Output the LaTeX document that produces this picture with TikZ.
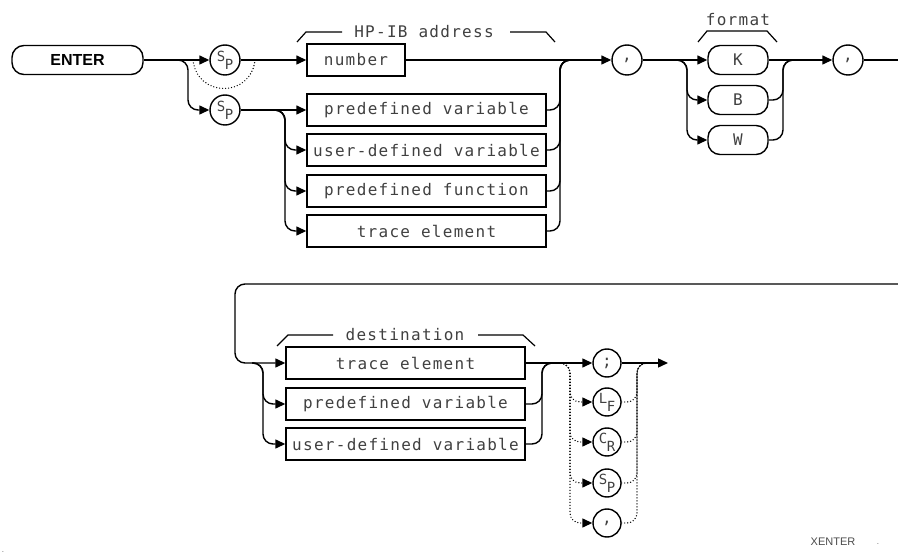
\documentclass[tikz,border=0pt]{standalone}
\usepackage{fontspec}
\setmainfont{Liberation Sans}
\newfontfamily\hpfont[LetterSpace=8]{DejaVu Sans Mono}
\newfontfamily\hpcirc{DejaVu Sans Mono}
\usetikzlibrary{arrows.meta}

\newcommand\twochar[2]{{\fontsize{14}{14}\selectfont\raisebox{3.5pt}{#1}\hspace{-0.5pt}\raisebox{-4.5pt}{#2}}}

\tikzset{
  flow/.style={line width=1.4pt},
  opt/.style={line width=1.4pt,dash pattern=on 0pt off 3pt,line cap=round},
  tip/.style={-{Triangle[length=10pt,width=9pt]}},
  field/.style={draw,line width=1.4pt,minimum width=239pt,minimum height=32pt,inner sep=0pt,
    font=\hpfont\fontsize{16}{16}\selectfont,text=black!75},
  keyword/.style={draw,line width=1.4pt,rounded corners=12pt,minimum width=60pt,minimum height=29pt,
    inner sep=0pt,font=\hpcirc\fontsize{16}{16}\selectfont,text=black!75},
  token/.style={draw,line width=1.4pt,circle,minimum size=30pt,inner sep=0pt,
    font=\hpcirc\fontsize{16}{16}\selectfont,text=black!75},
  brtext/.style={inner sep=0pt,font=\hpfont\fontsize{16}{16}\selectfont,text=black!75}
}

\begin{document}
\begin{tikzpicture}[x=1pt,y=-1pt]
  \useasboundingbox (0,0) rectangle (898,556);

  % upper line: device, then format
  \node[keyword,minimum width=131pt,text=black,font=\bfseries\fontsize{16}{16}\selectfont] (enter) at (77.5,60) {ENTER};
  \node[token] (sp1) at (225,60) {\twochar{S}{P}};
  \node[token] (sp2) at (225,110) {\twochar{S}{P}};
  \node[field,minimum width=98pt] (number) at (356,60) {number};
  \node[field] (pv1) at (426.5,110) {predefined variable};
  \node[field] (ud1) at (426.5,150) {user-defined variable};
  \node[field] (pf1) at (426.5,191) {predefined function};
  \node[field] (te1) at (426.5,231) {trace element};
  \node[token] (comma1) at (627,60) {,};
  \node[keyword] (fmtK) at (738,60) {K};
  \node[keyword] (fmtB) at (738,100) {B};
  \node[keyword] (fmtW) at (738,140) {W};
  \node[token] (comma2) at (848,60) {,};

  \coordinate (fork1) at (178,60);
  \coordinate (rail1) at (188,60);
  \coordinate (skip1) at (193,60);
  \coordinate (skip2) at (255,60);
  \coordinate (fork2) at (273,110);
  \coordinate (rail2) at (285,110);
  \coordinate (rail3) at (560,60);
  \coordinate (join3) at (574,60);
  \coordinate (fork4) at (675,60);
  \coordinate (rail4) at (687,60);
  \coordinate (rail5) at (783,60);
  \coordinate (join5) at (796,60);
  \coordinate (end1) at (898,60);

  \draw[flow,tip] (enter) -- (sp1);
  \draw[flow,tip,rounded corners=10pt] (fork1) -| (rail1 |- sp2.west) -- (sp2.west);
  \draw[opt] (skip1) .. controls +(4,38) and +(-4,38) .. (skip2);
  \draw[flow,tip] (sp1) -- (number);
  \draw[flow,tip] (sp2) -- (pv1);
  \foreach \n in {ud1,pf1,te1}
    \draw[flow,tip,rounded corners=10pt] (fork2) -| (rail2 |- \n.west) -- (\n.west);
  \draw[flow,tip] (number) -- (comma1);
  \foreach \n in {pv1,ud1,pf1,te1}
    \draw[flow,rounded corners=10pt] (\n.east) -| (rail3) -- (join3);
  \draw[flow,tip] (comma1) -- (fmtK);
  \foreach \n in {fmtB,fmtW}
    \draw[flow,tip,rounded corners=10pt] (fork4) -| (rail4 |- \n.west) -- (\n.west);
  \foreach \n in {fmtB,fmtW}
    \draw[flow,rounded corners=10pt] (\n.east) -| (rail5) -- (join5);
  \draw[flow,tip] (fmtK) -- (comma2);
  \draw[flow] (comma2) -- (end1);

  % brackets over the groups
  \draw[line width=1.2pt] (297,42) -- (306,32) -- (342,32);
  \node[brtext] (hpib) at (424,32) {HP-IB address};
  \draw[line width=1.2pt] (510,32) -- (546,32) -- (555,42);
  \node[brtext] (fmt) at (738,20) {format};
  \draw[line width=1.2pt] (698,42) -- (707,31) -- (767,31) -- (777,42);

  % lower line: destination, then terminator
  \node[field] (te2) at (405.5,363) {trace element};
  \node[field] (pv2) at (405.5,404) {predefined variable};
  \node[field] (ud2) at (405.5,444) {user-defined variable};
  \node[token,minimum size=28pt] (semi) at (607,363) {;};
  \node[token,minimum size=28pt] (lf) at (607,402) {\twochar{L}{F}};
  \node[token,minimum size=28pt] (cr) at (607,442) {\twochar{C}{R}};
  \node[token,minimum size=28pt] (sp3) at (607,483) {\twochar{S}{P}};
  \node[token,minimum size=28pt] (comma3) at (607,523) {,};

  \coordinate (start2) at (898,284);
  \coordinate (turn2) at (235,284);
  \coordinate (fork6) at (252,363);
  \coordinate (rail6) at (263,363);
  \coordinate (rail7) at (542,363);
  \coordinate (join7) at (555,363);
  \coordinate (fork8) at (558,363);
  \coordinate (rail8) at (570,363);
  \coordinate (rail9) at (637,363);
  \coordinate (join9) at (651,363);
  \coordinate (fin) at (668,363);

  \draw[flow,tip,rounded corners=10pt] (start2) -- (turn2) -- (turn2 |- te2.west) -- (te2.west);
  \foreach \n in {pv2,ud2}
    \draw[flow,tip,rounded corners=10pt] (fork6) -| (rail6 |- \n.west) -- (\n.west);
  \foreach \n in {pv2,ud2}
    \draw[flow,rounded corners=10pt] (\n.east) -| (rail7) -- (join7);
  \draw[flow,tip] (te2) -- (semi);
  \draw[flow,tip] (semi) -- (fin);
  \foreach \n in {lf,cr,sp3,comma3}
    \draw[opt,tip,rounded corners=10pt] (fork8) -| (rail8 |- \n.west) -- (\n.west);
  \foreach \n in {lf,cr,sp3,comma3}
    \draw[opt,rounded corners=10pt] (\n.east) -| (rail9) -- (join9);
  \node[brtext] (dest) at (405,335) {destination};
  \draw[line width=1.2pt] (277,346) -- (288,335) -- (333,335);
  \draw[line width=1.2pt] (478,335) -- (523,335) -- (535,346);

  % figure tag
  \node[inner sep=0pt,font=\fontsize{11}{11}\selectfont,text=black!70] (tag) at (833,542) {XENTER};
  \node[inner sep=0pt,font=\fontsize{8}{8}\selectfont,text=black!60] (tagdot) at (878,544) {.};
  \node[inner sep=0pt,font=\fontsize{8}{8}\selectfont,text=black!60] (edgedot) at (3,552) {.};
\end{tikzpicture}
\end{document}
